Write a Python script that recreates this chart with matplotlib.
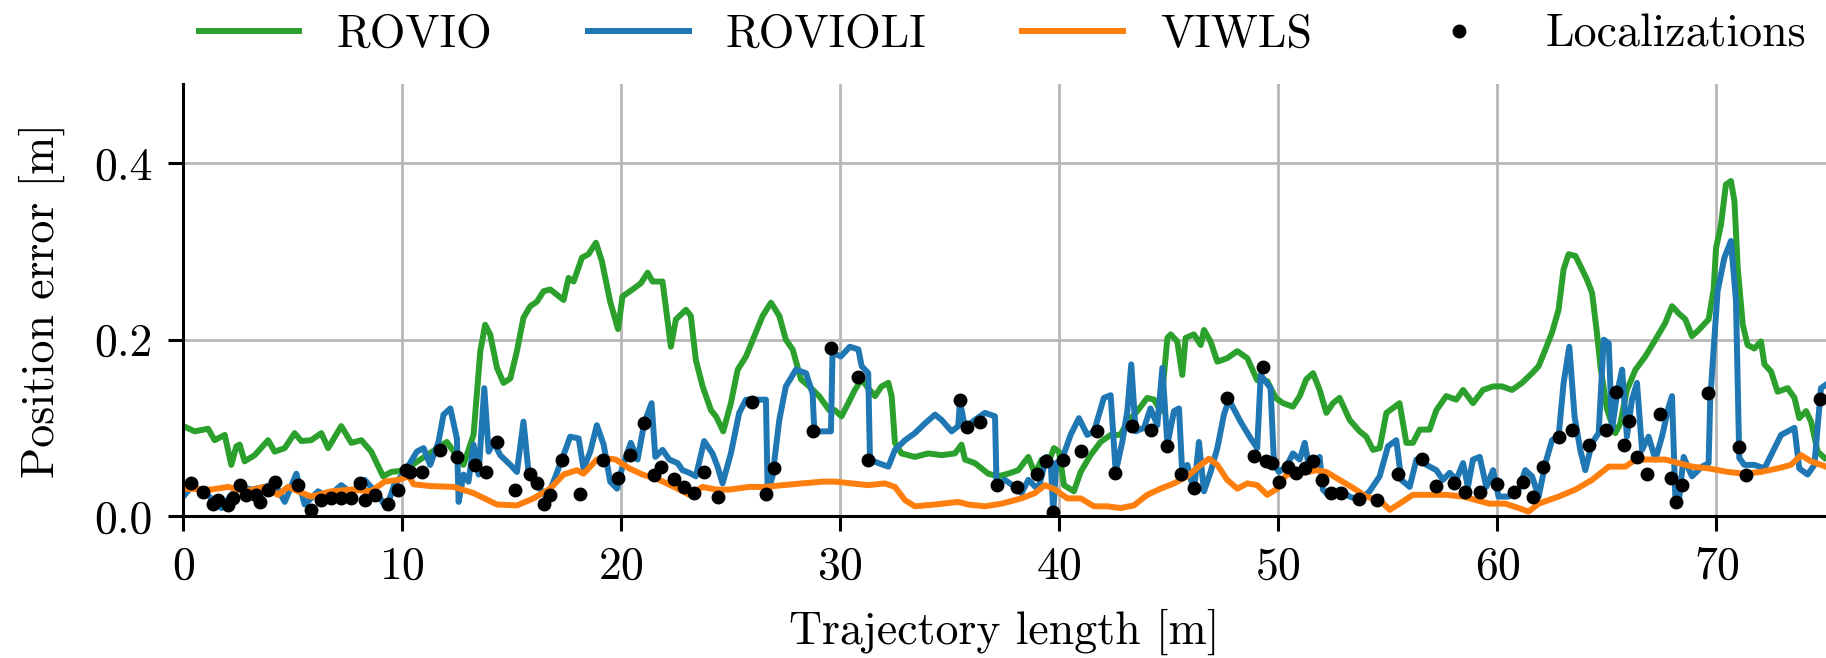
import matplotlib
matplotlib.use("Agg")
import matplotlib.pyplot as plt

plt.rcParams['font.family'] = ['cmr10', 'DejaVu Serif']
plt.rcParams['axes.formatter.use_mathtext'] = True
plt.rcParams['mathtext.fontset'] = 'cm'

# ROVIO (green)
rovio_x = [0.0, 0.52, 1.13, 1.43, 1.89, 2.19, 2.42, 2.57, 2.80, 3.26, 3.87, 4.17, 4.63, 5.08,
           5.39, 5.84, 6.30, 6.61, 7.21, 7.67, 8.13, 8.58, 9.12, 9.50, 9.85, 10.21, 11.12,
           12.03, 12.79, 13.25, 13.56, 13.78, 14.01, 14.32, 14.62, 14.93, 15.23, 15.53, 15.84,
           16.14, 16.45, 16.75, 17.06, 17.36, 17.59, 17.82, 18.20, 18.50, 18.84, 19.11, 19.49,
           19.85, 20.05, 20.51, 20.89, 21.20, 21.42, 21.88, 22.26, 22.49, 22.95, 23.17, 23.40,
           23.71, 24.09, 24.32, 24.65, 25.00, 25.31, 25.69, 26.07, 26.45, 26.83, 27.21, 27.51,
           27.82, 28.20, 28.58, 29.03, 29.49, 29.75, 30.05, 30.36, 30.66, 30.97, 31.27, 31.58,
           31.88, 32.19, 32.34, 32.49, 32.79, 33.40, 34.01, 34.62, 35.23, 35.53, 35.69, 36.14,
           36.75, 37.21, 37.66, 38.12, 38.58, 38.88, 39.19, 39.49, 39.75, 39.98, 40.21, 40.66,
           40.97, 41.42, 41.88, 42.34, 42.79, 43.10, 43.56, 44.01, 44.32, 44.62, 44.93, 45.08,
           45.38, 45.61, 45.76, 46.14, 46.45, 46.60, 46.90, 47.21, 47.66, 48.12, 48.58, 49.03,
           49.49, 49.87, 50.21, 50.66, 50.97, 51.27, 51.58, 51.88, 52.19, 52.49, 52.79, 53.25,
           53.71, 54.01, 54.32, 54.62, 54.93, 55.53, 55.84, 56.14, 56.45, 56.90, 57.21, 57.66,
           58.12, 58.43, 58.88, 59.34, 59.80, 60.21, 60.66, 61.12, 61.58, 61.88, 62.19, 62.49,
           62.79, 63.02, 63.25, 63.56, 63.86, 64.09, 64.32, 64.54, 64.70, 65.00, 65.38, 65.61,
           65.91, 66.30, 66.75, 67.21, 67.66, 67.97, 68.27, 68.58, 68.88, 69.19, 69.64, 69.87,
           69.98, 70.21, 70.43, 70.66, 70.82, 70.97, 71.20, 71.42, 71.73, 72.03, 72.19, 72.49,
           72.79, 73.25, 73.56, 73.78, 74.09, 74.32, 74.62, 74.93]
rovio_y = [0.102, 0.096, 0.099, 0.086, 0.092, 0.058, 0.079, 0.081, 0.062, 0.069, 0.086, 0.073,
           0.077, 0.094, 0.085, 0.086, 0.094, 0.077, 0.102, 0.083, 0.086, 0.073, 0.045, 0.050,
           0.051, 0.054, 0.069, 0.084, 0.058, 0.092, 0.187, 0.217, 0.206, 0.168, 0.151, 0.156,
           0.187, 0.225, 0.238, 0.243, 0.255, 0.257, 0.251, 0.245, 0.270, 0.266, 0.293, 0.297,
           0.310, 0.289, 0.243, 0.212, 0.249, 0.257, 0.264, 0.276, 0.266, 0.266, 0.192, 0.223,
           0.234, 0.227, 0.177, 0.147, 0.120, 0.113, 0.096, 0.128, 0.166, 0.181, 0.204, 0.227,
           0.242, 0.227, 0.200, 0.189, 0.155, 0.147, 0.136, 0.120, 0.120, 0.113, 0.128, 0.143,
           0.155, 0.145, 0.136, 0.147, 0.151, 0.136, 0.083, 0.071, 0.067, 0.071, 0.069, 0.071,
           0.081, 0.064, 0.060, 0.048, 0.045, 0.048, 0.052, 0.067, 0.048, 0.064, 0.060, 0.077,
           0.073, 0.035, 0.028, 0.050, 0.069, 0.084, 0.092, 0.092, 0.107, 0.119, 0.134, 0.132,
           0.119, 0.202, 0.206, 0.198, 0.160, 0.202, 0.206, 0.194, 0.211, 0.198, 0.175, 0.179,
           0.187, 0.179, 0.154, 0.153, 0.134, 0.128, 0.124, 0.136, 0.155, 0.162, 0.143, 0.117,
           0.128, 0.134, 0.109, 0.096, 0.090, 0.075, 0.077, 0.117, 0.128, 0.083, 0.083, 0.098,
           0.098, 0.120, 0.136, 0.132, 0.143, 0.128, 0.143, 0.147, 0.147, 0.143, 0.151, 0.162,
           0.170, 0.189, 0.208, 0.234, 0.280, 0.297, 0.295, 0.280, 0.268, 0.253, 0.208, 0.170,
           0.121, 0.094, 0.105, 0.143, 0.166, 0.181, 0.200, 0.219, 0.238, 0.230, 0.223, 0.204,
           0.211, 0.223, 0.257, 0.304, 0.331, 0.376, 0.380, 0.357, 0.281, 0.217, 0.194, 0.190,
           0.198, 0.172, 0.164, 0.141, 0.145, 0.134, 0.111, 0.119, 0.107, 0.073, 0.066]

# ROVIOLI (blue)
rovioli_x = [0.06, 0.37, 0.82, 1.28, 1.74, 2.19, 2.65, 3.11, 3.71, 4.17, 4.63, 5.16, 5.54, 6.15,
             6.61, 7.21, 7.67, 8.28, 8.89, 9.27, 9.65, 9.75, 10.21, 10.66, 10.97, 11.27, 11.65,
             11.88, 12.19, 12.49, 12.57, 12.79, 13.02, 13.25, 13.48, 13.74, 13.94, 14.16, 14.47,
             14.93, 15.23, 15.53, 15.76, 15.99, 16.29, 16.60, 16.90, 17.36, 17.66, 18.05, 18.27,
             18.58, 18.88, 19.19, 19.49, 19.80, 20.05, 20.43, 20.74, 21.04, 21.38, 21.55, 21.88,
             22.19, 22.57, 22.79, 23.10, 23.40, 23.78, 24.16, 24.39, 24.62, 25.00, 25.38, 25.69,
             26.14, 26.60, 26.68, 26.90, 27.21, 27.51, 27.97, 28.43, 28.73, 28.81, 29.19, 29.57,
             29.64, 30.02, 30.43, 30.82, 30.97, 31.27, 31.35, 31.73, 32.19, 32.49, 32.95, 33.40,
             33.86, 34.32, 34.62, 35.08, 35.38, 35.46, 35.69, 36.14, 36.60, 37.06, 37.13, 37.51,
             37.97, 38.27, 38.58, 39.03, 39.41, 39.60, 39.72, 39.85, 40.13, 40.51, 40.89, 41.27,
             41.58, 42.03, 42.34, 42.57, 42.87, 43.10, 43.28, 43.48, 43.86, 44.16, 44.47, 44.70,
             44.93, 45.23, 45.46, 45.61, 45.84, 46.14, 46.37, 46.60, 46.90, 47.21, 47.51, 47.74,
             48.27, 48.73, 49.03, 49.19, 49.64, 49.80, 50.02, 50.36, 50.66, 50.97, 51.20, 51.42,
             51.88, 52.03, 52.34, 52.79, 53.25, 53.71, 54.16, 54.62, 55.00, 55.38, 55.61, 55.99,
             56.30, 56.60, 56.90, 57.21, 57.51, 57.82, 58.12, 58.43, 58.65, 58.88, 59.19, 59.49,
             59.80, 60.05, 60.51, 60.97, 61.27, 61.58, 61.88, 62.19, 62.49, 62.79, 63.02, 63.28,
             63.52, 63.78, 64.01, 64.32, 64.62, 64.85, 65.08, 65.23, 65.46, 65.69, 65.91, 66.14,
             66.37, 66.60, 66.90, 67.21, 67.51, 67.82, 67.97, 68.12, 68.27, 68.50, 68.88, 69.34,
             69.64, 69.72, 69.75, 70.05, 70.36, 70.66, 70.89, 71.04, 71.27, 71.73, 72.19, 72.49,
             72.95, 73.25, 73.56, 73.78, 74.16, 74.47, 74.77, 75.0]
rovioli_y = [0.024, 0.033, 0.030, 0.020, 0.009, 0.024, 0.033, 0.030, 0.033, 0.037, 0.016, 0.048,
             0.013, 0.028, 0.022, 0.035, 0.026, 0.041, 0.024, 0.009, 0.037, 0.039, 0.054, 0.073,
             0.077, 0.058, 0.084, 0.115, 0.122, 0.088, 0.016, 0.047, 0.039, 0.081, 0.047, 0.145,
             0.073, 0.084, 0.069, 0.058, 0.050, 0.107, 0.050, 0.039, 0.031, 0.020, 0.039, 0.069,
             0.090, 0.088, 0.054, 0.073, 0.103, 0.081, 0.039, 0.031, 0.056, 0.083, 0.064, 0.105,
             0.128, 0.067, 0.075, 0.064, 0.060, 0.052, 0.049, 0.045, 0.085, 0.071, 0.056, 0.037,
             0.071, 0.117, 0.132, 0.132, 0.132, 0.026, 0.045, 0.109, 0.147, 0.166, 0.162, 0.139,
             0.096, 0.096, 0.096, 0.185, 0.181, 0.192, 0.189, 0.170, 0.162, 0.064, 0.060, 0.056,
             0.075, 0.086, 0.094, 0.105, 0.115, 0.109, 0.096, 0.102, 0.130, 0.100, 0.109, 0.117,
             0.113, 0.035, 0.041, 0.033, 0.026, 0.041, 0.030, 0.067, 0.062, 0.004, 0.060, 0.065,
             0.092, 0.111, 0.092, 0.096, 0.134, 0.137, 0.050, 0.084, 0.119, 0.172, 0.096, 0.100,
             0.122, 0.103, 0.168, 0.081, 0.119, 0.122, 0.047, 0.058, 0.028, 0.084, 0.028, 0.050,
             0.077, 0.115, 0.132, 0.107, 0.088, 0.077, 0.160, 0.145, 0.058, 0.050, 0.056, 0.071,
             0.064, 0.083, 0.052, 0.067, 0.030, 0.022, 0.030, 0.022, 0.018, 0.028, 0.045, 0.079,
             0.086, 0.041, 0.033, 0.064, 0.060, 0.056, 0.052, 0.041, 0.049, 0.041, 0.060, 0.033,
             0.064, 0.067, 0.033, 0.052, 0.022, 0.022, 0.030, 0.052, 0.045, 0.022, 0.060, 0.086,
             0.090, 0.151, 0.192, 0.113, 0.075, 0.052, 0.083, 0.094, 0.200, 0.196, 0.098, 0.139,
             0.166, 0.090, 0.132, 0.151, 0.075, 0.090, 0.064, 0.090, 0.124, 0.136, 0.022, 0.014,
             0.067, 0.045, 0.056, 0.060, 0.139, 0.145, 0.255, 0.293, 0.312, 0.244, 0.066, 0.058,
             0.058, 0.054, 0.069, 0.092, 0.096, 0.100, 0.054, 0.047, 0.058, 0.145, 0.149]

# VIWLS (orange)
viwls_x = [0.06, 1.28, 2.04, 2.80, 3.71, 4.32, 4.78, 5.24, 5.84, 6.76, 7.67, 8.58, 9.19, 9.80,
           10.30, 10.51, 11.27, 12.34, 13.25, 14.32, 15.23, 15.99, 16.75, 17.36, 17.97, 18.27,
           18.88, 19.49, 19.75, 20.36, 20.97, 21.73, 22.49, 23.10, 23.71, 24.32, 24.93, 25.84,
           26.60, 27.36, 28.27, 29.19, 29.75, 30.51, 31.27, 32.03, 32.49, 32.95, 33.40, 34.32,
           35.38, 35.84, 36.60, 37.36, 38.27, 38.88, 39.34, 39.80, 40.36, 40.97, 41.58, 42.19,
           42.79, 43.40, 44.01, 44.62, 45.23, 45.84, 46.45, 46.83, 47.21, 47.66, 48.12, 48.58,
           49.03, 49.49, 49.95, 50.36, 50.97, 51.73, 52.19, 52.79, 53.40, 54.01, 54.62, 55.08,
           55.53, 56.14, 56.90, 57.66, 58.43, 59.03, 59.64, 60.36, 60.97, 61.42, 61.88, 62.79,
           63.56, 64.32, 65.08, 65.84, 66.30, 67.06, 67.66, 68.27, 68.88, 69.64, 70.51, 71.27,
           72.03, 72.79, 73.40, 73.86, 74.32, 74.77, 75.0]
viwls_y = [0.031, 0.030, 0.033, 0.028, 0.033, 0.024, 0.033, 0.028, 0.022, 0.028, 0.030, 0.028,
           0.039, 0.041, 0.045, 0.036, 0.034, 0.033, 0.026, 0.013, 0.012, 0.020, 0.031, 0.047,
           0.052, 0.048, 0.064, 0.065, 0.064, 0.054, 0.047, 0.041, 0.032, 0.024, 0.033, 0.030,
           0.030, 0.033, 0.033, 0.035, 0.037, 0.039, 0.039, 0.037, 0.035, 0.037, 0.033, 0.018,
           0.011, 0.013, 0.016, 0.013, 0.011, 0.014, 0.020, 0.026, 0.035, 0.030, 0.020, 0.020,
           0.011, 0.011, 0.009, 0.012, 0.024, 0.031, 0.037, 0.045, 0.058, 0.065, 0.058, 0.041,
           0.031, 0.037, 0.035, 0.024, 0.031, 0.047, 0.048, 0.052, 0.050, 0.041, 0.032, 0.022,
           0.018, 0.007, 0.014, 0.024, 0.024, 0.024, 0.022, 0.018, 0.014, 0.014, 0.009, 0.005,
           0.014, 0.022, 0.030, 0.041, 0.056, 0.056, 0.064, 0.064, 0.064, 0.060, 0.056, 0.054,
           0.050, 0.048, 0.050, 0.054, 0.058, 0.069, 0.062, 0.058, 0.056]

# Localizations (black dots)
loc_x = [0.37, 0.90, 1.35, 1.58, 2.04, 2.27, 2.57, 2.88, 3.33, 3.49, 3.87, 4.17, 5.24, 5.84,
         6.30, 6.76, 7.21, 7.67, 8.05, 8.28, 8.74, 9.35, 9.80, 10.18, 10.36, 10.89, 11.73,
         12.49, 13.33, 13.83, 14.32, 15.15, 15.81, 16.17, 16.45, 16.75, 17.28, 18.12, 19.16,
         19.83, 20.39, 21.04, 21.50, 21.80, 22.41, 22.87, 23.33, 23.78, 24.39, 25.96, 26.60,
         26.98, 28.76, 29.57, 30.82, 31.27, 35.46, 35.76, 36.37, 37.13, 38.05, 38.96, 39.37,
         39.72, 40.15, 40.97, 41.70, 42.54, 43.33, 44.16, 44.89, 45.53, 46.14, 47.66, 48.88,
         49.29, 49.42, 49.72, 50.02, 50.43, 50.82, 51.20, 51.58, 52.00, 52.41, 52.87, 53.68,
         54.51, 55.46, 56.57, 57.21, 58.00, 58.53, 59.19, 59.98, 60.74, 61.15, 61.61, 62.06,
         62.82, 63.40, 64.19, 64.96, 65.41, 65.76, 65.99, 66.37, 66.83, 67.44, 67.92, 68.15,
         68.43, 69.61, 71.04, 71.35, 74.74]
loc_y = [0.037, 0.027, 0.014, 0.018, 0.013, 0.020, 0.035, 0.024, 0.024, 0.016, 0.030, 0.039,
         0.035, 0.007, 0.018, 0.020, 0.020, 0.020, 0.037, 0.018, 0.024, 0.014, 0.030, 0.052,
         0.050, 0.050, 0.075, 0.067, 0.058, 0.050, 0.084, 0.030, 0.048, 0.037, 0.014, 0.024,
         0.064, 0.025, 0.064, 0.043, 0.069, 0.105, 0.046, 0.056, 0.042, 0.033, 0.026, 0.050,
         0.022, 0.129, 0.025, 0.054, 0.096, 0.191, 0.158, 0.064, 0.132, 0.101, 0.107, 0.035,
         0.033, 0.048, 0.062, 0.004, 0.064, 0.074, 0.096, 0.049, 0.102, 0.098, 0.079, 0.048,
         0.032, 0.134, 0.068, 0.169, 0.062, 0.060, 0.039, 0.056, 0.049, 0.054, 0.062, 0.041,
         0.026, 0.026, 0.019, 0.018, 0.048, 0.065, 0.034, 0.038, 0.027, 0.027, 0.036, 0.027,
         0.039, 0.021, 0.056, 0.090, 0.097, 0.080, 0.098, 0.141, 0.080, 0.108, 0.067, 0.048,
         0.116, 0.043, 0.016, 0.035, 0.139, 0.078, 0.047, 0.133]

x_ticks = [0, 10, 20, 30, 40, 50, 60, 70]
y_ticks = [0.0, 0.2, 0.4]

fig = plt.figure(figsize=(18.26, 6.58), dpi=100)
ax = fig.add_axes([0.1004, 0.2158, 0.8996, 0.6565])

lw = 4.3
ax.plot(rovio_x, rovio_y, color='#2ca02c', lw=lw, label='ROVIO')
ax.plot(rovioli_x, rovioli_y, color='#1f77b4', lw=lw, label='ROVIOLI')
ax.plot(viwls_x, viwls_y, color='#ff7f0e', lw=lw, label='VIWLS')
ax.plot(loc_x, loc_y, 'o', color='black', ms=9, label='Localizations', zorder=4)

ax.set_xlim(0, 75)
ax.set_ylim(0, 0.49)
ax.set_xticks(x_ticks)
ax.set_yticks(y_ticks)
ax.set_yticklabels(['0.0', '0.2', '0.4'])
ax.grid(True, color='#b8b8b8', lw=2.0)
ax.set_axisbelow(True)
for s in ['top', 'right']:
    ax.spines[s].set_visible(False)
for s in ['left', 'bottom']:
    ax.spines[s].set_linewidth(2.2)
ax.tick_params(labelsize=33, length=11, width=2.2, pad=11)

ax.set_xlabel('Trajectory length [m]', fontsize=33)
ax.set_ylabel('Position error [m]', fontsize=33)
ax.xaxis.set_label_coords(0.5, -0.215)
ax.yaxis.set_label_coords(-0.072, 0.5)

fig.legend(loc='center', bbox_to_anchor=(0.549, 0.947), ncol=4, frameon=False,
           fontsize=33, handlelength=2.2, handletextpad=0.8, columnspacing=2.1)

fig.savefig('out.png', dpi=100)
